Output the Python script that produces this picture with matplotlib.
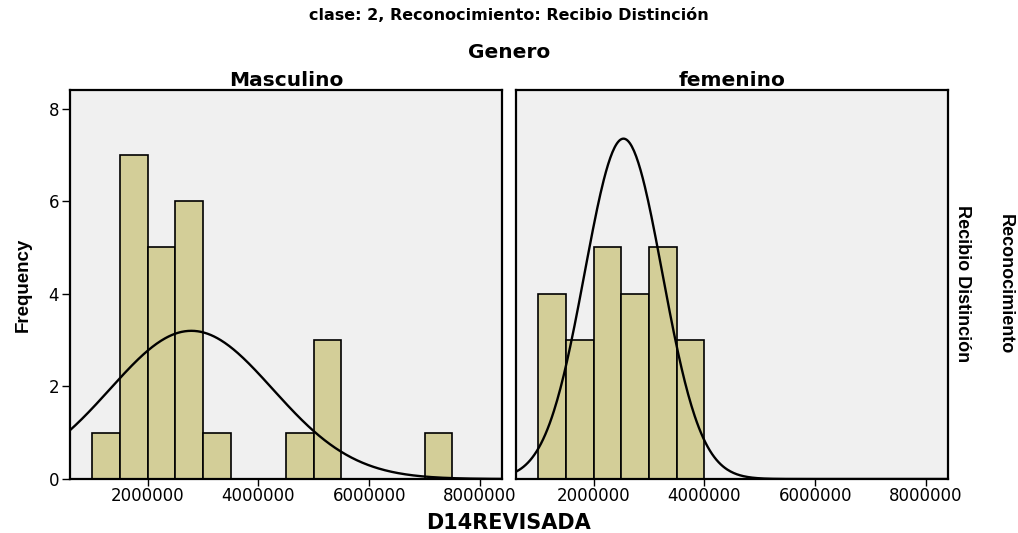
import numpy as np
import matplotlib
matplotlib.use('Agg')
import matplotlib.pyplot as plt

# histogram data (bins of 500000)
bin_edges = [1000000, 1500000, 2000000, 2500000, 3000000, 3500000,
             4000000, 4500000, 5000000, 5500000, 6000000, 6500000,
             7000000, 7500000]
masc_counts = [1, 7, 5, 6, 1, 0, 0, 1, 3, 0, 0, 0, 1]
fem_counts = [4, 3, 5, 4, 5, 3, 0, 0, 0, 0, 0, 0, 0]

# normal curve (mean, std, peak height)
masc_mean, masc_std, masc_peak = 2790000, 1470000, 3.2
fem_mean, fem_std, fem_peak = 2540000, 700000, 7.35

panels = ['Masculino', 'femenino']
xticks = [2000000, 4000000, 6000000, 8000000]
yticks = [0, 2, 4, 6, 8]

bar_color = '#d3ce98'
bg_color = '#f0f0f0'
bin_w = 500000

fig = plt.figure(figsize=(10.18, 5.33), dpi=100)
ax1 = fig.add_axes([0.0688, 0.1013, 0.4244, 0.7298])
ax2 = fig.add_axes([0.5069, 0.1013, 0.4244, 0.7298])

xs = np.linspace(600000, 8400000, 400)

for ax, counts, mu, sd, pk, name in [(ax1, masc_counts, masc_mean, masc_std, masc_peak, panels[0]),
                                      (ax2, fem_counts, fem_mean, fem_std, fem_peak, panels[1])]:
    ax.set_facecolor(bg_color)
    left = np.array(bin_edges[:-1])
    c = np.array(counts)
    m = c > 0
    ax.bar(left[m], c[m], width=bin_w, align='edge', color=bar_color,
           edgecolor='black', linewidth=1.2, zorder=2)
    ys = pk * np.exp(-0.5 * ((xs - mu) / sd) ** 2)
    ax.plot(xs, ys, color='black', lw=1.7, zorder=3)
    ax.set_xlim(600000, 8400000)
    ax.set_ylim(0, 8.4)
    ax.set_xticks(xticks)
    ax.set_xticklabels([str(t) for t in xticks], fontsize=12, family='DejaVu Sans')
    ax.tick_params(axis='x', direction='out', length=5, width=1, pad=1)
    for s in ax.spines.values():
        s.set_linewidth(1.6)
    ax.set_title(name, fontsize=14.5, fontweight='bold', family='DejaVu Sans', pad=1)

ax1.set_yticks(yticks)
ax1.set_yticklabels([str(t) for t in yticks], fontsize=12, family='DejaVu Sans')
ax1.tick_params(axis='y', direction='out', length=6, width=1, pad=2)
ax1.set_ylabel('Frequency', fontsize=13.5, fontweight='bold', family='Liberation Sans', labelpad=12)
ax2.set_yticks([])

fig.text(0.5, 0.970, 'clase: 2, Reconocimiento: Recibio Distinción', ha='center', va='center',
         fontsize=11.5, fontweight='bold', family='DejaVu Sans')
fig.text(0.5, 0.902, 'Genero', ha='center', va='center',
         fontsize=14.5, fontweight='bold', family='DejaVu Sans')
fig.text(0.5, 0.018, 'D14REVISADA', ha='center', va='center',
         fontsize=15, fontweight='bold', family='DejaVu Sans')
fig.text(0.945, 0.468, 'Recibio Distinción', ha='center', va='center', rotation=-90,
         fontsize=13, fontweight='bold', family='Liberation Sans')
fig.text(0.987, 0.466, 'Reconocimiento', ha='center', va='center', rotation=-90,
         fontsize=13, fontweight='bold', family='Liberation Sans')

fig.savefig('out.png', dpi=100)
